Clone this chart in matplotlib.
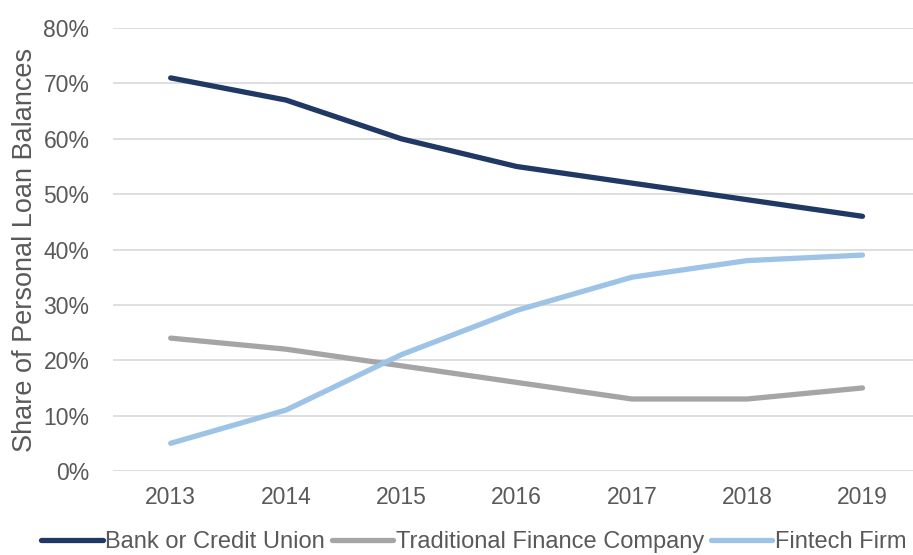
import matplotlib.pyplot as plt
from matplotlib.ticker import PercentFormatter

years = ["2013", "2014", "2015", "2016", "2017", "2018", "2019"]
bank = [71, 67, 60, 55, 52, 49, 46]
traditional = [24, 22, 19, 16, 13, 13, 15]
fintech = [5, 11, 21, 29, 35, 38, 39]

plt.rcParams["font.family"] = ["Liberation Sans", "DejaVu Sans"]

fig = plt.figure(figsize=(9.13, 5.55), dpi=100)
ax = fig.add_axes([0.1238, 0.1514, 0.884, 0.798])

x = range(len(years))
ax.plot(x, bank, color="#203864", linewidth=3.8, label="Bank or Credit Union", solid_capstyle="round")
ax.plot(x, traditional, color="#A5A5A5", linewidth=3.8, label="Traditional Finance Company", solid_capstyle="round")
ax.plot(x, fintech, color="#9DC3E6", linewidth=3.8, label="Fintech Firm", solid_capstyle="round")

ax.set_xlim(-0.5, 6.5)
ax.set_ylim(0, 80)
ax.set_yticks(range(0, 81, 10))
ax.yaxis.set_major_formatter(PercentFormatter(decimals=0))
ax.set_xticks(list(x))
ax.set_xticklabels(years)
ax.grid(axis="y", color="#D9D9D9", linewidth=1.2)
ax.set_axisbelow(True)
for s in ax.spines.values():
    s.set_visible(False)
ax.tick_params(length=0, labelsize=16.5, colors="#595959", pad=11)
ax.tick_params(axis="y", pad=17)
ax.set_ylabel("Share of Personal Loan Balances", fontsize=19.5, color="#595959", labelpad=4)

fig.legend(loc="lower left", bbox_to_anchor=(0.022, -0.035), ncol=3, frameon=False,
           prop={"size": 17}, handlelength=2.6, handletextpad=0.1, columnspacing=0.3,
           labelcolor="#595959")

fig.savefig("out.png", dpi=100)
